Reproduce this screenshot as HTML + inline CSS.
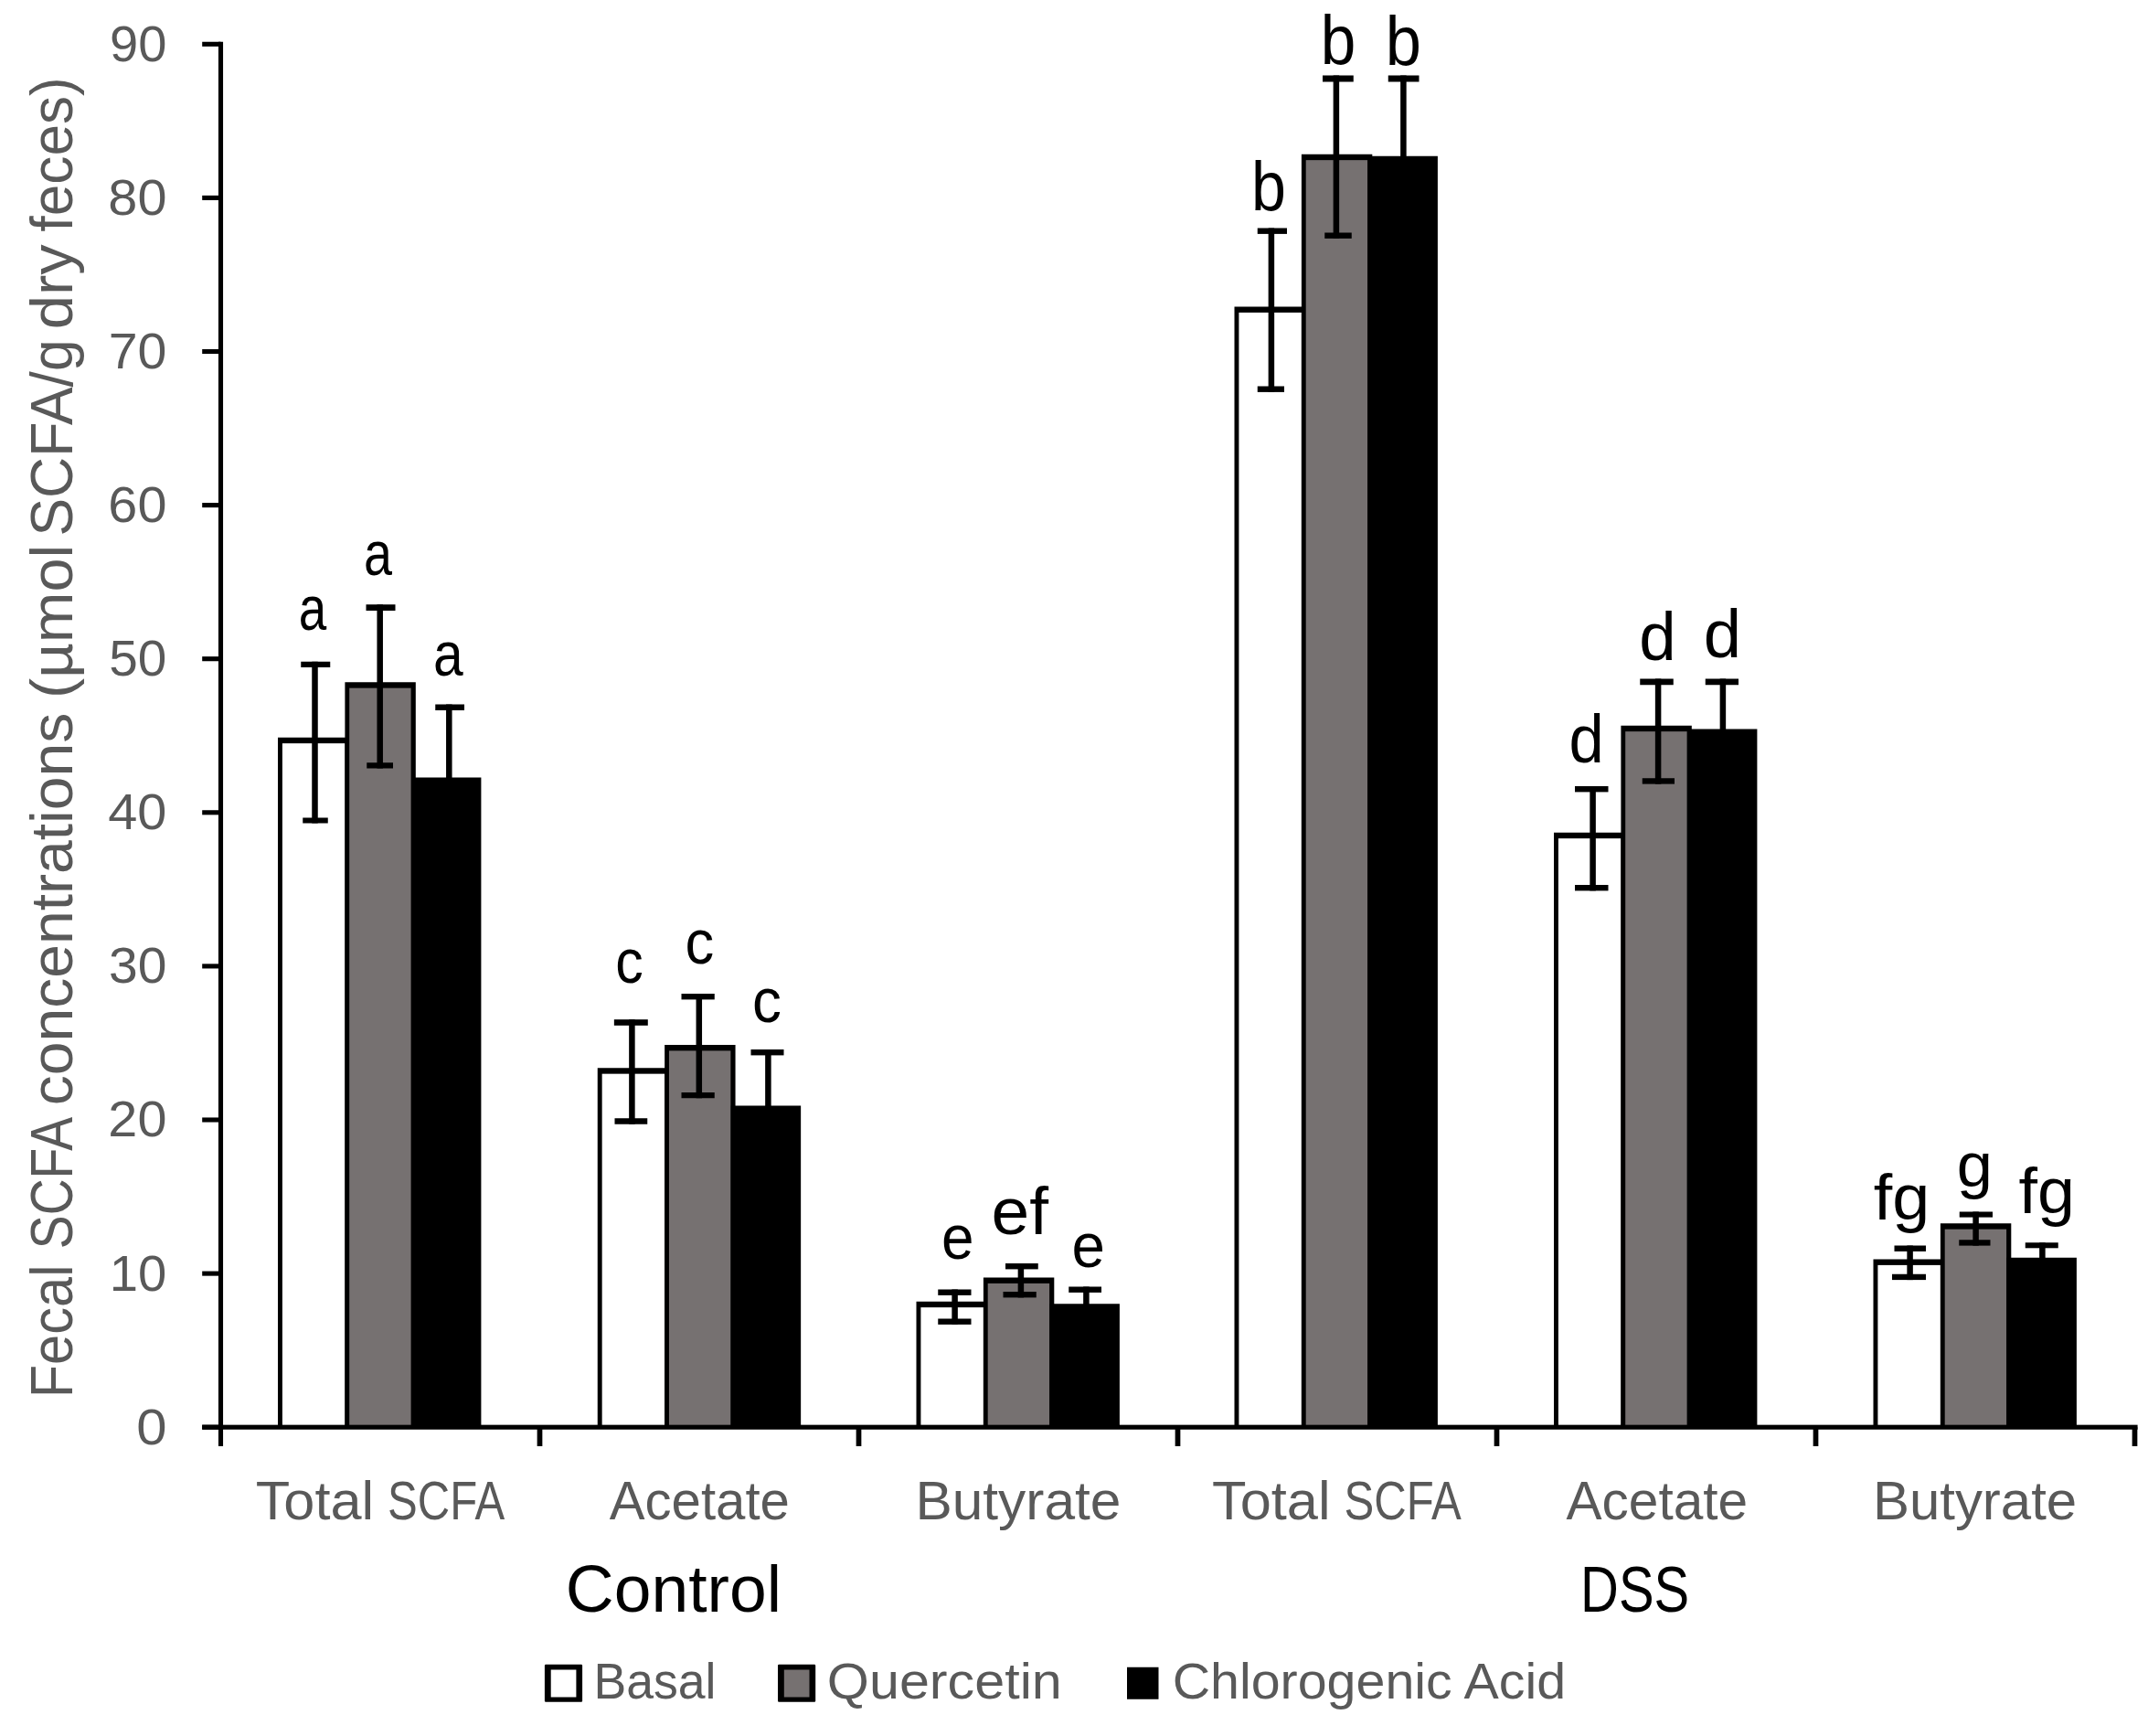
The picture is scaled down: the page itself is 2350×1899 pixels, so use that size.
<!DOCTYPE html>
<html><head><meta charset="utf-8"><title>Fecal SCFA concentrations</title>
<style>
html,body{margin:0;padding:0;background:#fff;}
body{width:2350px;height:1899px;overflow:hidden;}
svg{display:block;}
text{font-family:"Liberation Sans",sans-serif;}
</style></head><body>
<svg width="2350" height="1899" viewBox="0 0 2350 1899">
<rect width="2350" height="1899" fill="#fff"/>
<rect x="304.00" y="806.75" width="76.00" height="754.45" fill="#000"/>
<rect x="308.90" y="813.15" width="68.50" height="748.05" fill="#fff"/>
<rect x="377.40" y="746.25" width="77.40" height="814.95" fill="#000"/>
<rect x="382.20" y="752.65" width="67.40" height="808.55" fill="#767171"/>
<rect x="450.00" y="850.50" width="76.40" height="710.70" fill="#000"/>
<rect x="653.75" y="1168.25" width="76.00" height="392.95" fill="#000"/>
<rect x="658.65" y="1174.65" width="68.50" height="386.55" fill="#fff"/>
<rect x="727.15" y="1143.00" width="77.40" height="418.20" fill="#000"/>
<rect x="731.95" y="1149.40" width="67.40" height="411.80" fill="#767171"/>
<rect x="799.75" y="1209.50" width="76.40" height="351.70" fill="#000"/>
<rect x="1002.50" y="1423.75" width="76.00" height="137.45" fill="#000"/>
<rect x="1007.40" y="1430.15" width="68.50" height="131.05" fill="#fff"/>
<rect x="1075.90" y="1397.50" width="77.40" height="163.70" fill="#000"/>
<rect x="1080.70" y="1403.90" width="67.40" height="157.30" fill="#767171"/>
<rect x="1148.50" y="1426.25" width="76.40" height="134.95" fill="#000"/>
<rect x="1350.50" y="335.50" width="76.00" height="1225.70" fill="#000"/>
<rect x="1355.40" y="341.90" width="68.50" height="1219.30" fill="#fff"/>
<rect x="1423.90" y="168.75" width="77.40" height="1392.45" fill="#000"/>
<rect x="1428.70" y="175.15" width="67.40" height="1386.05" fill="#767171"/>
<rect x="1496.50" y="170.75" width="76.40" height="1390.45" fill="#000"/>
<rect x="1700.00" y="910.75" width="76.00" height="650.45" fill="#000"/>
<rect x="1704.90" y="917.15" width="68.50" height="644.05" fill="#fff"/>
<rect x="1773.40" y="793.75" width="77.40" height="767.45" fill="#000"/>
<rect x="1778.20" y="800.15" width="67.40" height="761.05" fill="#767171"/>
<rect x="1846.00" y="797.50" width="76.40" height="763.70" fill="#000"/>
<rect x="2049.50" y="1377.50" width="76.00" height="183.70" fill="#000"/>
<rect x="2054.40" y="1383.90" width="68.50" height="177.30" fill="#fff"/>
<rect x="2122.90" y="1338.25" width="77.40" height="222.95" fill="#000"/>
<rect x="2127.70" y="1344.65" width="67.40" height="216.55" fill="#767171"/>
<rect x="2195.50" y="1375.75" width="76.40" height="185.45" fill="#000"/>
<rect x="341.25" y="723.75" width="6.50" height="176.75" fill="#000"/>
<rect x="329.25" y="723.75" width="32.00" height="6.25" fill="#000"/>
<rect x="331.25" y="894.50" width="27.50" height="6.00" fill="#000"/>
<rect x="412.45" y="661.25" width="6.50" height="179.25" fill="#000"/>
<rect x="400.50" y="661.25" width="32.00" height="6.75" fill="#000"/>
<rect x="401.25" y="834.25" width="28.75" height="6.25" fill="#000"/>
<rect x="488.05" y="770.50" width="6.50" height="82.00" fill="#000"/>
<rect x="476.25" y="770.50" width="31.75" height="6.50" fill="#000"/>
<rect x="688.15" y="1115.20" width="6.50" height="114.55" fill="#000"/>
<rect x="671.85" y="1115.20" width="36.95" height="6.60" fill="#000"/>
<rect x="672.50" y="1223.25" width="35.75" height="6.50" fill="#000"/>
<rect x="761.55" y="1087.00" width="6.50" height="114.25" fill="#000"/>
<rect x="745.50" y="1087.00" width="36.25" height="6.40" fill="#000"/>
<rect x="745.50" y="1195.00" width="36.25" height="6.25" fill="#000"/>
<rect x="837.15" y="1148.00" width="6.50" height="63.50" fill="#000"/>
<rect x="821.50" y="1148.00" width="36.00" height="6.40" fill="#000"/>
<rect x="1041.35" y="1410.50" width="6.50" height="38.40" fill="#000"/>
<rect x="1026.25" y="1410.50" width="36.25" height="6.40" fill="#000"/>
<rect x="1026.25" y="1442.50" width="36.25" height="6.40" fill="#000"/>
<rect x="1113.65" y="1382.00" width="6.50" height="37.40" fill="#000"/>
<rect x="1100.00" y="1382.00" width="35.75" height="6.40" fill="#000"/>
<rect x="1097.50" y="1413.00" width="36.25" height="6.40" fill="#000"/>
<rect x="1185.15" y="1407.50" width="6.50" height="20.75" fill="#000"/>
<rect x="1169.25" y="1407.50" width="35.75" height="6.40" fill="#000"/>
<rect x="1387.65" y="249.50" width="6.50" height="179.40" fill="#000"/>
<rect x="1375.75" y="249.50" width="32.25" height="6.40" fill="#000"/>
<rect x="1375.75" y="422.50" width="29.25" height="6.40" fill="#000"/>
<rect x="1458.65" y="82.50" width="6.50" height="178.40" fill="#000"/>
<rect x="1447.00" y="82.50" width="33.75" height="7.00" fill="#000"/>
<rect x="1449.25" y="254.50" width="29.50" height="6.40" fill="#000"/>
<rect x="1532.15" y="82.50" width="6.50" height="90.25" fill="#000"/>
<rect x="1518.75" y="82.50" width="33.75" height="7.00" fill="#000"/>
<rect x="1739.35" y="860.00" width="6.50" height="114.40" fill="#000"/>
<rect x="1723.00" y="860.00" width="36.50" height="6.40" fill="#000"/>
<rect x="1723.00" y="968.00" width="36.50" height="6.40" fill="#000"/>
<rect x="1810.85" y="742.50" width="6.50" height="115.10" fill="#000"/>
<rect x="1794.25" y="742.50" width="36.50" height="6.75" fill="#000"/>
<rect x="1796.75" y="851.25" width="35.25" height="6.35" fill="#000"/>
<rect x="1881.65" y="742.50" width="6.50" height="57.00" fill="#000"/>
<rect x="1865.75" y="742.50" width="36.25" height="6.75" fill="#000"/>
<rect x="2086.35" y="1362.50" width="6.50" height="37.60" fill="#000"/>
<rect x="2072.50" y="1362.50" width="34.50" height="6.40" fill="#000"/>
<rect x="2070.00" y="1393.75" width="37.00" height="6.35" fill="#000"/>
<rect x="2158.35" y="1325.50" width="6.50" height="37.10" fill="#000"/>
<rect x="2143.75" y="1325.50" width="36.25" height="6.10" fill="#000"/>
<rect x="2143.25" y="1356.25" width="34.25" height="6.35" fill="#000"/>
<rect x="2231.15" y="1359.25" width="6.50" height="18.50" fill="#000"/>
<rect x="2215.75" y="1359.25" width="36.00" height="6.05" fill="#000"/>
<rect x="238.95" y="45.75" width="5.10" height="1536.25" fill="#000"/>
<rect x="221.20" y="1558.65" width="20.30" height="5.10" fill="#000"/>
<rect x="221.20" y="1390.55" width="20.30" height="5.10" fill="#000"/>
<rect x="221.20" y="1222.45" width="20.30" height="5.10" fill="#000"/>
<rect x="221.20" y="1054.35" width="20.30" height="5.10" fill="#000"/>
<rect x="221.20" y="886.25" width="20.30" height="5.10" fill="#000"/>
<rect x="221.20" y="718.15" width="20.30" height="5.10" fill="#000"/>
<rect x="221.20" y="550.05" width="20.30" height="5.10" fill="#000"/>
<rect x="221.20" y="381.95" width="20.30" height="5.10" fill="#000"/>
<rect x="221.20" y="213.85" width="20.30" height="5.10" fill="#000"/>
<rect x="221.20" y="45.75" width="20.30" height="5.10" fill="#000"/>
<rect x="221.20" y="1558.65" width="2117.40" height="5.10" fill="#000"/>
<rect x="587.65" y="1561.20" width="5.70" height="20.80" fill="#000"/>
<rect x="936.65" y="1561.20" width="5.70" height="20.80" fill="#000"/>
<rect x="1285.65" y="1561.20" width="5.70" height="20.80" fill="#000"/>
<rect x="1634.65" y="1561.20" width="5.70" height="20.80" fill="#000"/>
<rect x="1983.65" y="1561.20" width="5.70" height="20.80" fill="#000"/>
<rect x="2332.65" y="1561.20" width="5.70" height="20.80" fill="#000"/>
<text transform="matrix(0.9775 0 0 1.0000 666.71 1662.30)" font-size="59.50" fill="#595959">Acetate</text>
<text transform="matrix(1.0154 0 0 1.0000 1001.42 1662.30)" font-size="59.50" fill="#595959">Butyrate</text>
<text transform="matrix(0.9850 0 0 1.0000 1713.46 1662.30)" font-size="59.50" fill="#595959">Acetate</text>
<text transform="matrix(1.0072 0 0 1.0000 2048.96 1662.30)" font-size="59.50" fill="#595959">Butyrate</text>
<text transform="translate(281.25 1662.30)" font-size="59.50" fill="#595959"><tspan x="-1.53" textLength="129.41" lengthAdjust="spacingAndGlyphs">Total</tspan> <tspan x="142.79" textLength="128.05" lengthAdjust="spacingAndGlyphs">SCFA</tspan></text>
<text transform="translate(1327.50 1662.30)" font-size="59.50" fill="#595959"><tspan x="-1.53" textLength="129.67" lengthAdjust="spacingAndGlyphs">Total</tspan> <tspan x="143.04" textLength="128.31" lengthAdjust="spacingAndGlyphs">SCFA</tspan></text>
<text transform="matrix(1.0247 0 0 1.0000 618.84 1763.00)" font-size="71.50" fill="#000">Control</text>
<text transform="matrix(0.8331 0 0 1.0000 1729.12 1763.00)" font-size="69.50" fill="#000">DSS</text>
<text transform="matrix(0.9659 0 0 1.0000 649.46 1858.20)" font-size="55.50" fill="#595959">Basal</text>
<text transform="matrix(1.0683 0 0 1.0000 904.83 1858.20)" font-size="55.50" fill="#595959">Quercetin</text>
<text transform="matrix(1.0338 0 0 1.0000 1282.63 1858.20)" font-size="55.50" fill="#595959">Chlorogenic Acid</text>
<rect x="595.90" y="1820.80" width="41.20" height="41.00" rx="1.2" fill="#000"/>
<rect x="602.70" y="1826.50" width="27.70" height="30.00" fill="#fff"/>
<rect x="851.00" y="1820.80" width="41.20" height="41.00" rx="1.2" fill="#000"/>
<rect x="857.80" y="1826.50" width="27.70" height="30.00" fill="#767171"/>
<rect x="1233.00" y="1823.75" width="34.50" height="35.00" fill="#000"/>
<text transform="matrix(1.0691 0 0 1.0000 149.17 1579.60)" font-size="56.00" fill="#595959">0</text>
<text transform="matrix(1.0039 0 0 1.0000 119.85 1411.50)" font-size="56.00" fill="#595959">10</text>
<text transform="matrix(1.0285 0 0 1.0000 118.37 1243.40)" font-size="56.00" fill="#595959">20</text>
<text transform="matrix(1.0186 0 0 1.0000 118.97 1075.30)" font-size="56.00" fill="#595959">30</text>
<text transform="matrix(1.0306 0 0 1.0000 118.24 907.20)" font-size="56.00" fill="#595959">40</text>
<text transform="matrix(1.0131 0 0 1.0000 119.29 739.10)" font-size="56.00" fill="#595959">50</text>
<text transform="matrix(1.0285 0 0 1.0000 118.37 571.00)" font-size="56.00" fill="#595959">60</text>
<text transform="matrix(1.0231 0 0 1.0000 118.70 402.90)" font-size="56.00" fill="#595959">70</text>
<text transform="matrix(1.0290 0 0 1.0000 118.34 234.80)" font-size="56.00" fill="#595959">80</text>
<text transform="matrix(1.0017 0 0 1.0000 119.98 66.70)" font-size="56.00" fill="#595959">90</text>
<text transform="translate(78.60 1524.50) rotate(-90)" font-size="65.50" fill="#595959"><tspan x="-4.77" textLength="145.66" lengthAdjust="spacingAndGlyphs">Fecal</tspan> <tspan x="158.32" textLength="141.29" lengthAdjust="spacingAndGlyphs">SCFA</tspan> <tspan x="315.28" textLength="429.47" lengthAdjust="spacingAndGlyphs">concentrations</tspan> <tspan x="760.49" textLength="168.39" lengthAdjust="spacingAndGlyphs">(µmol</tspan> <tspan x="937.94" textLength="215.18" lengthAdjust="spacingAndGlyphs">SCFA/g</tspan> <tspan x="1164.32" textLength="92.96" lengthAdjust="spacingAndGlyphs">dry</tspan> <tspan x="1271.07" textLength="169.11" lengthAdjust="spacingAndGlyphs">feces)</tspan></text>
<text transform="matrix(0.7943 0 0 1.0000 326.68 689.20)" font-size="69.00" fill="#000">a</text>
<text transform="matrix(0.8085 0 0 1.0000 397.89 628.50)" font-size="69.00" fill="#000">a</text>
<text transform="matrix(0.8511 0 0 1.0000 474.01 739.20)" font-size="69.00" fill="#000">a</text>
<text transform="matrix(0.8830 0 0 1.0000 673.16 1075.20)" font-size="69.00" fill="#000">c</text>
<text transform="matrix(0.9168 0 0 1.0000 749.55 1054.20)" font-size="69.00" fill="#000">c</text>
<text transform="matrix(0.9252 0 0 1.0000 823.03 1117.70)" font-size="69.00" fill="#000">c</text>
<text transform="matrix(0.9257 0 0 1.0000 1030.03 1376.70)" font-size="69.00" fill="#000">e</text>
<text transform="matrix(1.0408 0 0 1.0000 1084.53 1350.20)" font-size="72.00" fill="#000">ef</text>
<text transform="matrix(0.9490 0 0 1.0000 1172.45 1385.50)" font-size="69.00" fill="#000">e</text>
<text transform="matrix(0.8977 0 0 1.0000 1368.97 230.20)" font-size="76.00" fill="#000">b</text>
<text transform="matrix(0.9123 0 0 1.0000 1444.64 69.70)" font-size="76.00" fill="#000">b</text>
<text transform="matrix(0.9269 0 0 1.0000 1515.82 71.00)" font-size="76.00" fill="#000">b</text>
<text transform="matrix(0.9294 0 0 1.0000 1716.40 833.50)" font-size="74.00" fill="#000">d</text>
<text transform="matrix(0.9820 0 0 1.0000 1793.24 721.70)" font-size="74.00" fill="#000">d</text>
<text transform="matrix(1.0045 0 0 1.0000 1863.68 719.20)" font-size="74.00" fill="#000">d</text>
<text transform="matrix(1.0391 0 0 1.0000 2049.79 1333.75)" font-size="71.00" fill="#000">fg</text>
<text transform="matrix(1.0209 0 0 1.0000 2140.83 1297.50)" font-size="69.00" fill="#000">g</text>
<text transform="matrix(1.0391 0 0 1.0000 2208.54 1326.75)" font-size="71.00" fill="#000">fg</text>
</svg>
</body></html>
